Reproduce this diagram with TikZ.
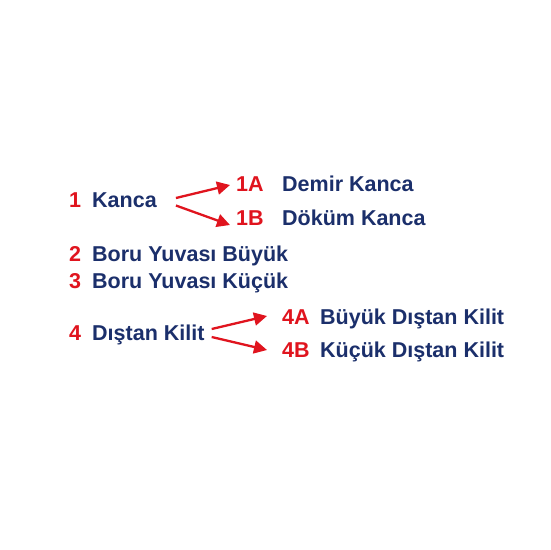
\documentclass[tikz,border=0pt]{standalone}
\usepackage{fontspec}
\setmainfont{Liberation Sans}
\usetikzlibrary{arrows.meta}
\definecolor{numred}{HTML}{E0141E}
\definecolor{txtblue}{HTML}{1B2F6B}
\tikzset{
	num/.style={anchor=base west,inner sep=0pt,text=numred,font=\bfseries\fontsize{21.5}{26}\selectfont},
	txt/.style={anchor=base west,inner sep=0pt,text=txtblue,font=\bfseries\fontsize{21.5}{26}\selectfont},
	arr/.style={-{Triangle[length=13pt,width=13pt]},line width=2.3pt,draw=numred}
}
\begin{document}
\begin{tikzpicture}
            \fill[white] (0,0) rectangle (550pt,-550pt);
            \useasboundingbox (0,0) rectangle (550pt,-550pt);
            \node[num] (n1) at (69pt,-207pt) {1};
            \node[txt] (kanca) at (92pt,-207pt) {Kanca};
            \node[num] (n1a) at (236pt,-191pt) {1A};
            \node[txt] (demir) at (282pt,-191pt) {Demir Kanca};
            \node[num] (n1b) at (236pt,-225pt) {1B};
            \node[txt] (dokum) at (282pt,-225pt) {Döküm Kanca};
            \node[num] (n2) at (69pt,-261pt) {2};
            \node[txt] (byuva) at (92pt,-261pt) {Boru Yuvası Büyük};
            \node[num] (n3) at (69pt,-288pt) {3};
            \node[txt] (kyuva) at (92pt,-288pt) {Boru Yuvası Küçük};
            \node[num] (n4) at (69pt,-340pt) {4};
            \node[txt] (kilit) at (92pt,-340pt) {Dıştan Kilit};
            \node[num] (n4a) at (282pt,-324pt) {4A};
            \node[txt] (bkilit) at (320pt,-324pt) {Büyük Dıştan Kilit};
            \node[num] (n4b) at (282pt,-357pt) {4B};
            \node[txt] (kkilit) at (320pt,-357pt) {Küçük Dıştan Kilit};
            \draw[arr] ([shift={(19pt,9pt)}]kanca.base east) -- ([shift={(-6pt,6pt)}]n1a.base west);
            \draw[arr] ([shift={(19pt,1.5pt)}]kanca.base east) -- ([shift={(-6pt,0pt)}]n1b.base west);
            \draw[arr] ([shift={(7pt,11pt)}]kilit.base east) -- ([shift={(-15pt,8pt)}]n4a.base west);
            \draw[arr] ([shift={(7pt,3pt)}]kilit.base east) -- ([shift={(-15pt,7pt)}]n4b.base west);
        \end{tikzpicture}
\end{document}
